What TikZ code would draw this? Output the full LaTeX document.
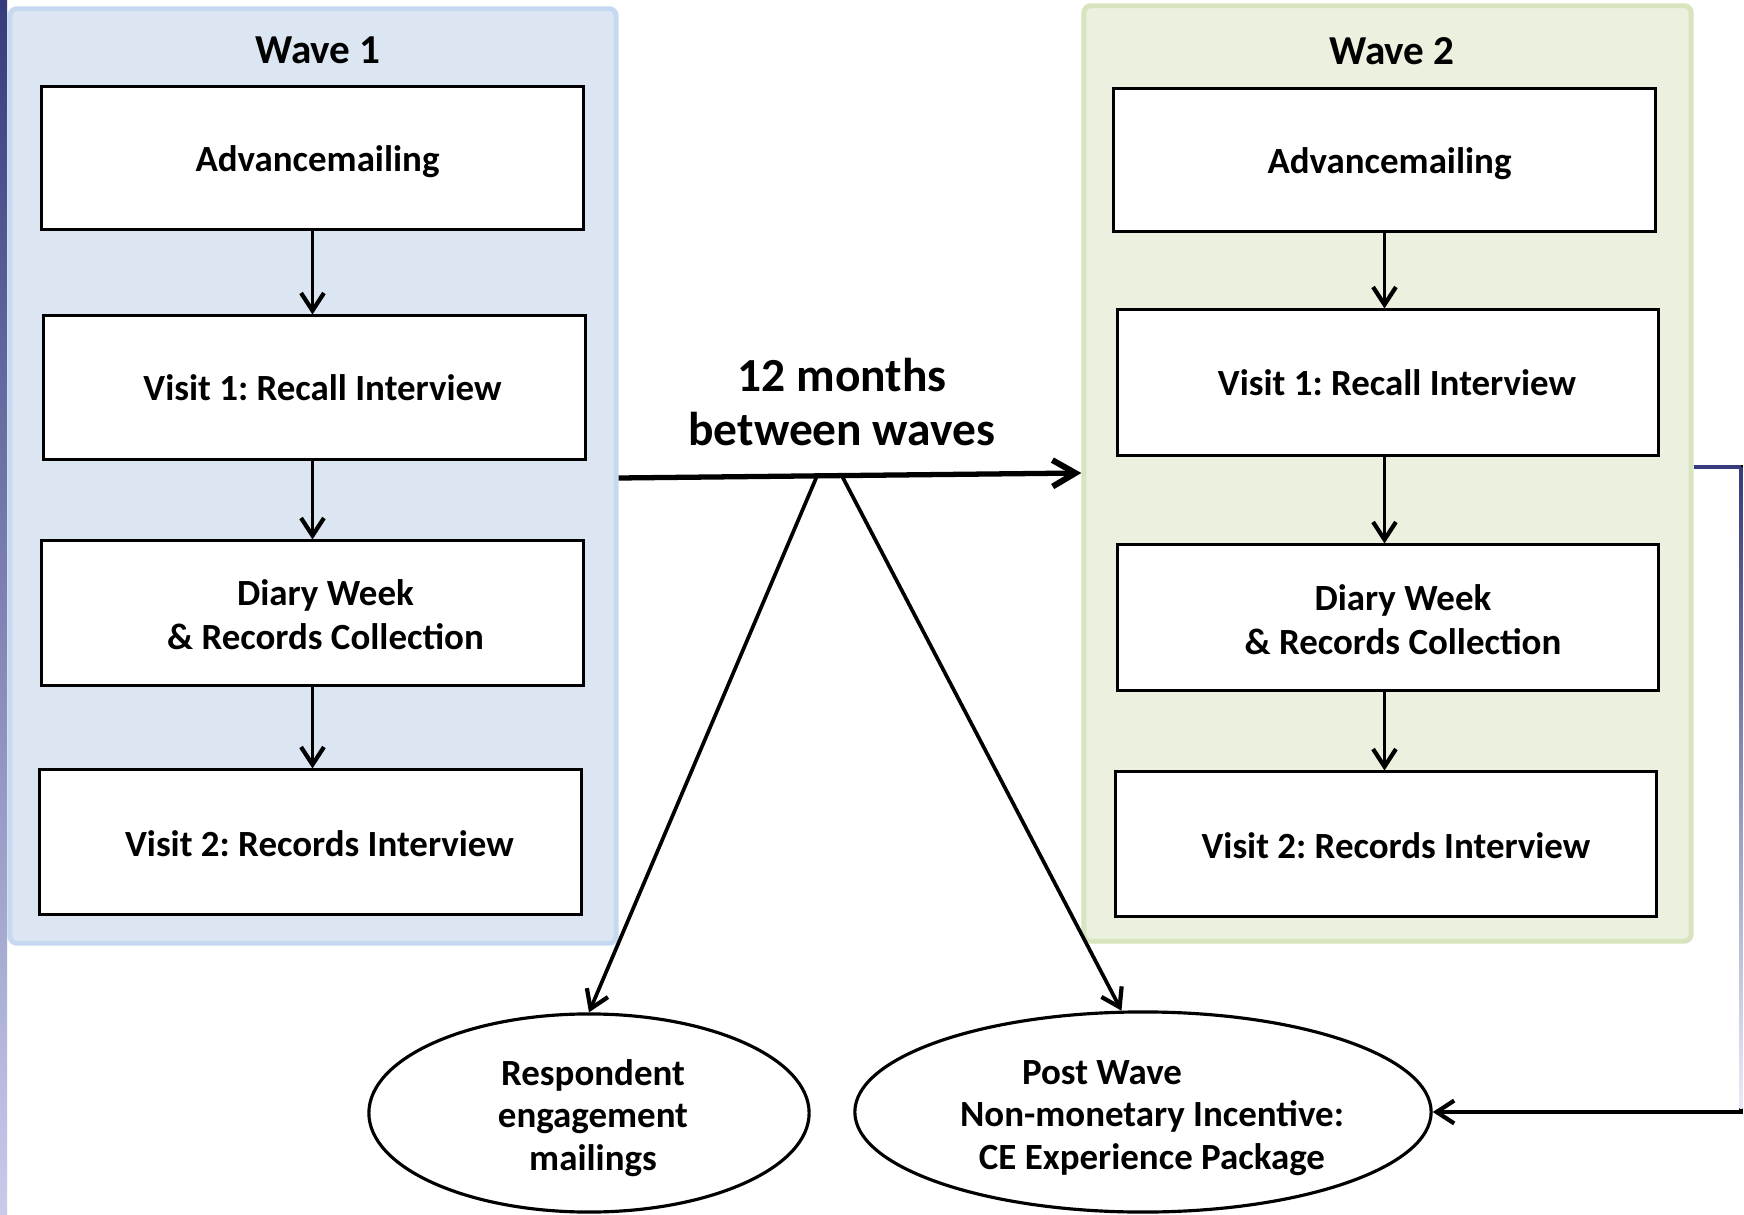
\documentclass[tikz,border=0pt]{standalone}
\usepackage{fontspec}
\setmainfont{Carlito}
\frenchspacing
\usetikzlibrary{arrows.meta,shapes.geometric,calc}
\definecolor{wonefill}{HTML}{DCE6F2}
\definecolor{woneline}{HTML}{C6D9F1}
\definecolor{wtwofill}{HTML}{EBF1DE}
\definecolor{wtwoline}{HTML}{D7E4BD}
\definecolor{navyc}{HTML}{353B7C}
\definecolor{lavc}{HTML}{C8CBEA}
\begin{document}
\begin{tikzpicture}[x=0.01cm,y=-0.01cm,
  wave/.style={line width=1.4pt, rounded corners=2pt, inner sep=0pt},
  stepbox/.style={draw=black, fill=white, line width=0.85pt, minimum width=5.41cm, minimum height=1.43cm, inner sep=0pt},
  steptext/.style={inner sep=0pt, align=center, font=\fontsize{10.5pt}{12.6pt}\selectfont\bfseries},
  oval/.style={ellipse, draw=black, fill=white, line width=0.9pt, inner sep=0pt},
  ovaltext/.style={inner sep=0pt, align=center, font=\fontsize{10.5pt}{12pt}\selectfont\bfseries},
  wtitle/.style={font=\fontsize{11.7pt}{14pt}\selectfont\bfseries},
  conn/.style={line width=1.05pt, -{Straight Barb[length=5pt,width=6.5pt,line width=1.2pt]}},
  bigconn/.style={line width=1.5pt, -{Straight Barb[length=6.5pt,width=7.5pt,line width=1.7pt]}}
]
\useasboundingbox (0,0) rectangle (1744,1215);
\fill[white] (0,0) rectangle (1744,1215);
% left decorative bar
\shade[top color=navyc, bottom color=lavc] (0,0) rectangle (7,1215);

% wave containers
\node[wave, draw=woneline, fill=wonefill, minimum width=6.06cm, minimum height=9.34cm] (w1) at (313,476) {};
\node[wave, draw=wtwoline, fill=wtwofill, minimum width=6.07cm, minimum height=9.35cm] (w2) at (1387.5,473.5) {};
\node[wtitle] (t1) at (318,50) {Wave 1};
\node[wtitle] (t2) at (1392,51) {Wave 2};

% wave 1 steps
\node[stepbox, minimum height=1.42cm] (a1) at (312.5,158) {};
\node[stepbox] (b1) at (314.5,387.5) {};
\node[stepbox, minimum height=1.44cm] (c1) at (312.5,613) {};
\node[stepbox, minimum height=1.44cm] (d1) at (310.5,842) {};
\node[steptext] (a1t) at ([shift={(5,4)}]a1.center) {Advancemailing};
\node[steptext] (b1t) at ([shift={(8,0)}]b1.center) {Visit 1: Recall Interview};
\node[steptext] (c1t) at ([shift={(13,2)}]c1.center) {Diary Week\\\& Records Collection};
\node[steptext] (d1t) at ([shift={(9,2)}]d1.center) {Visit 2: Records Interview};

% wave 2 steps
\node[stepbox, minimum height=1.42cm] (a2) at (1384.5,160) {};
\node[stepbox, minimum width=5.40cm, minimum height=1.45cm] (b2) at (1388,382.5) {};
\node[stepbox, minimum width=5.40cm, minimum height=1.45cm] (c2) at (1388,617.5) {};
\node[stepbox, minimum width=5.40cm, minimum height=1.44cm] (d2) at (1386,844) {};
\node[steptext] (a2t) at ([shift={(5,4)}]a2.center) {Advancemailing};
\node[steptext] (b2t) at ([shift={(9,0)}]b2.center) {Visit 1: Recall Interview};
\node[steptext] (c2t) at ([shift={(15,2)}]c2.center) {Diary Week\\\& Records Collection};
\node[steptext] (d2t) at ([shift={(10,2)}]d2.center) {Visit 2: Records Interview};

\draw[conn] (a1.south) -- (a1.south |- b1.north);
\draw[conn] (b1.south -| a1.south) -- (a1.south |- c1.north);
\draw[conn] (c1.south -| a1.south) -- (a1.south |- d1.north);
\draw[conn] (a2.south) -- (a2.south |- b2.north);
\draw[conn] (b2.south -| a2.south) -- (a2.south |- c2.north);
\draw[conn] (c2.south -| a2.south) -- (a2.south |- d2.north);

% ellipses
\node[oval, minimum width=4.40cm, minimum height=1.98cm] (e1) at (589,1113) {};
\node[oval, minimum width=5.76cm, minimum height=2.00cm] (e2) at (1143,1112) {};
\node[ovaltext] (e1t) at ([shift={(4,5)}]e1.center) {Respondent\\engagement\\mailings};
\node[ovaltext] (e2t) at ([shift={(9,6)}]e2.center) {Post Wave\hspace*{1cm}\\Non-monetary Incentive:\\CE Experience Package};

% main arrow
\node[align=center, font=\fontsize{13.5pt}{15.2pt}\selectfont\bfseries] (gap) at (842,402) {12 months\\between waves};
\draw[bigconn] (w1.east |- 0,478) -- (w2.west |- 0,473);
\coordinate (m1) at (817,476);
\coordinate (m2) at (842,476);
\draw[conn] (m1) -- (e1.north);
\draw[conn] (m2) -- (e2.102);

% right feedback connector
\coordinate (rc) at (1741,467);
\draw[conn] (w2.east |- rc) -- (rc) |- (e2.east);
\draw[navyc, line width=1.3pt] (w2.east |- rc) -- (rc);
\shade[top color=navyc, bottom color=lavc!40] (1739.5,467) rectangle (1742.5,1108);
\end{tikzpicture}
\end{document}
